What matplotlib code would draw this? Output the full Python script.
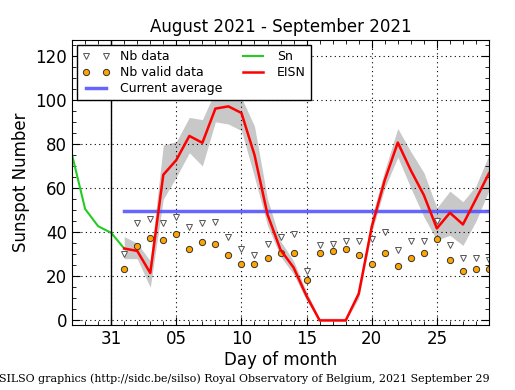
import matplotlib
matplotlib.use("Agg")
import matplotlib.pyplot as plt
import numpy as np
from matplotlib.ticker import MultipleLocator

# days: 0 = Aug 31, 1..29 = Sept 1..29
sn_days = [-3, -2, -1, 0, 1]
sn_vals = [75, 50.5, 42.7, 39.7, 32.6]

days = list(range(1, 30))
eisn = [32.6, 31.5, 21.5, 66, 72.7, 83.6, 80.5, 96, 97, 94, 75, 48, 32, 24, 11,
        0, 0, 0, 12.1, 42.4, 63.6, 80.6, 68, 56.8, 41.7, 48.8, 43.5, 55, 66.7]
eisn_hi = [38, 35, 27, 79.5, 81, 92, 91, 104, 106, 101, 88, 55, 36, 27, 13,
           1, 1, 1, 14, 47, 68, 87, 76.5, 67, 51, 58.6, 53.8, 61, 75]
eisn_lo = [28, 28, 15, 55, 65, 76, 70, 90, 89, 86, 65, 43, 29, 21, 9,
           0, 0, 0, 10, 40, 60, 74, 60, 47, 36.4, 38.6, 34, 45, 59]
nb_data = [30, 44, 45.8, 44, 46.7, 42.4, 44, 44.7, 37.6, 32.6, 29.5, 34.8, 37.6,
           39, 22.4, 34, 34.8, 35.8, 35.8, 37, 40, 31.8, 35.8, 35.8, 45, 34, 28.5, 28.5, 27.3]
nb_valid = [23.2, 33.8, 37.4, 36.4, 39, 32.3, 35.6, 34.8, 29.5, 25.5, 25.5, 28.3, 30.6,
            30.6, 18.5, 30.6, 31.5, 32.4, 29.7, 25.6, 30.6, 24.7, 28.3, 30.6, 36.7, 27.3, 22.4, 23.3, 23.3]
current_avg = 49.5

tick_pos = [0, 5, 10, 15, 20, 25]
tick_lab = ["31", "05", "10", "15", "20", "25"]

fig = plt.figure(figsize=(5.15, 3.9), dpi=100)
ax = fig.add_axes([0.14, 0.167, 0.8095, 0.73])

ax.fill_between(days, eisn_lo, eisn_hi, color="#c8c8c8", linewidth=0)
ax.plot(days, nb_data, linestyle="none", marker="v", markersize=5,
        markerfacecolor="white", markeredgecolor="#555555", markeredgewidth=0.7, label="Nb data")
ax.plot(days, nb_valid, linestyle="none", marker="o", markersize=4.5,
        markerfacecolor="orange", markeredgecolor="#333333", markeredgewidth=0.7, label="Nb valid data")
ax.plot([days[0], days[-1]], [current_avg, current_avg], color="#5555ff", alpha=0.9,
        linewidth=2.5, label="Current average")
ax.plot(sn_days, sn_vals, color="#22cc22", linewidth=1.5, label="Sn")
ax.plot(days, eisn, color="red", linewidth=1.8, label="EISN")
ax.axvline(0, color="black", linewidth=1)

ax.set_xlim(-3, 29)
ax.set_ylim(-2, 127)
ax.set_xticks(tick_pos)
ax.set_xticklabels(tick_lab)
ax.xaxis.set_minor_locator(MultipleLocator(1))
ax.yaxis.set_major_locator(MultipleLocator(20))
ax.yaxis.set_minor_locator(MultipleLocator(5))
ax.tick_params(which="both", direction="in", top=True, right=True, labelsize=12)
ax.tick_params(which="major", length=6)
ax.tick_params(which="minor", length=3)
ax.grid(True, which="major", color="black", linestyle=(0, (1, 3)), linewidth=0.8)

ax.set_title("August 2021 - September 2021", fontsize=12)
ax.set_xlabel("Day of month", fontsize=12, labelpad=2)
ax.set_ylabel("Sunspot Number", fontsize=12)

leg = ax.legend(loc="upper left", ncol=2, numpoints=2, fontsize=9, fancybox=False,
                framealpha=1, edgecolor="black", borderaxespad=0.4, columnspacing=1.4,
                handlelength=2.2, labelspacing=0.25)
leg.get_frame().set_linewidth(1)

fig.text(0.475, 0.02, "SILSO graphics (http://sidc.be/silso) Royal Observatory of Belgium, 2021 September 29",
         ha="center", fontsize=7.9, family="DejaVu Serif")

fig.savefig("out.png", dpi=100)
